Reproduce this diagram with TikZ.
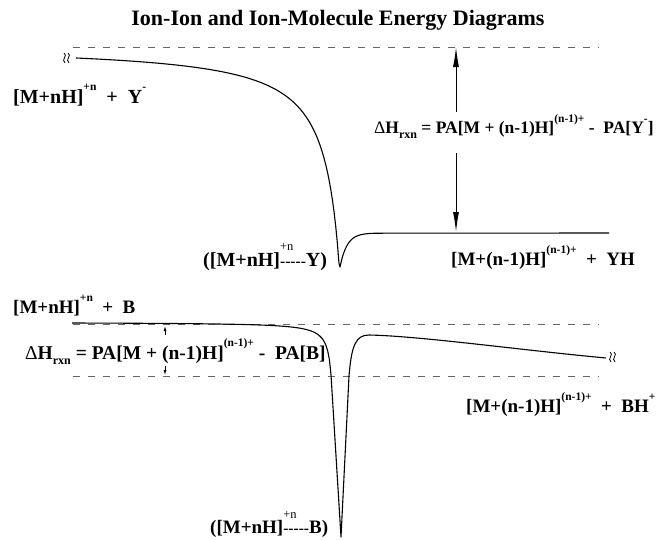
\documentclass[tikz,border=0pt]{standalone}
\usepackage{fontspec}
\setmainfont{Liberation Serif}
\usetikzlibrary{arrows.meta}
\newcommand{\spx}[1]{\raisebox{0.62em}{\fontsize{11.5}{12}\selectfont #1}}
\newcommand{\sbx}[1]{\raisebox{-0.3em}{\fontsize{12}{12}\selectfont #1}}
\newcommand{\hy}{\mbox{-}}
\newcommand{\bondsup}[1]{\makebox[0pt][l]{\raisebox{0.78em}{\fontsize{12.5}{13}\selectfont\mdseries #1}}{\fontsize{15.5}{16}\selectfont\hy\hy\hy\hy\hy}}
\tikzset{
  lbl/.style={inner sep=0pt, anchor=base west, font=\bfseries\fontsize{19}{22}\selectfont},
  curve/.style={line width=1.1pt, line join=round},
  level/.style={dash pattern=on 7pt off 8pt, line width=0.6pt, black!60},
  bigarr/.style={line width=1pt, -{Latex[length=20pt,width=6pt]}},
  smallarr/.style={line width=0.8pt, -{Latex[length=5pt,width=3pt]}},
  brk/.style={line width=0.8pt},
}
\begin{document}
\begin{tikzpicture}[x=1pt,y=-1pt]
\useasboundingbox (0,0) rectangle (658,539);
% title
\node[font=\bfseries\fontsize{22}{25}\selectfont, inner sep=0pt] (title) at (338,20) {Ion-Ion and Ion-Molecule Energy Diagrams};
% dashed levels
\draw[level] (73,47) -- (599,47);
\draw[level] (73,324) -- (599,324);
\draw[level] (73,376) -- (599,376);
% upper curve
\draw[curve] plot[domain=76:339, samples=160] (\x,{58+3487/(355-\x)-12.5}) -- (340,267)
  -- plot[domain=340:376, samples=40] (\x,{233+34*exp(-(\x-340)/7)}) -- (609,233);
% lower curve
\draw[curve] plot[domain=72:331, samples=160] (\x,{322.2+210/(335-\x)}) -- (341,537) -- (349,376)
  .. controls (351.5,345) and (356,335) .. (369,335)
  .. controls (420,336) and (520,350) .. (606,358);
% break symbols
\foreach \bx/\by in {64/58, 610/357}{
  \draw[brk] (\bx,\by-5) .. controls (\bx+4.5,\by-2.5) and (\bx-3.5,\by+1.5) .. (\bx+1,\by+5);
  \draw[brk] (\bx+4,\by-5) .. controls (\bx+8.5,\by-2.5) and (\bx+0.5,\by+1.5) .. (\bx+5,\by+5);
}
% labels
\node[lbl, font=\bfseries\fontsize{20}{23}\selectfont] (r1) at (13,103) {[M+nH]\spx{+n}\ \ +\ \ Y\spx{-}};
\node[lbl, font=\bfseries\fontsize{17.5}{20}\selectfont] (dh1) at (374,133) {{\mdseries Δ}H\sbx{rxn} = PA[M + (n\hy1)H]\spx{(n\hy1)+}\ \hy\ \ PA[Y\spx{-}]};
\node[lbl, font=\bfseries\fontsize{20}{23}\selectfont] (c1) at (203,266) {([M+nH]\bondsup{+n}Y)};
\node[lbl] (p1) at (451,265) {[M+(n\hy1)H]\spx{(n\hy1)+}\ \ +\ \ YH};
\node[lbl] (r2) at (13,313) {[M+nH]\spx{+n}\ \ +\ \ B};
\node[lbl, font=\bfseries\fontsize{19.5}{22}\selectfont] (dh2) at (25,359) {{\mdseries Δ}H\sbx{rxn} = PA[M + (n\hy1)H]\spx{(n\hy1)+}\ \hy\ \ PA[B]};
\node[lbl] (c2) at (210,533) {([M+nH]\bondsup{+n}B)};
\node[lbl] (p2) at (466,412) {[M+(n\hy1)H]\spx{(n\hy1)+}\ \ +\ \ BH\spx{+}};
% arrows
\coordinate (a1top) at (456,47);
\coordinate (a1s) at (456,112);
\coordinate (a1e) at (456,153);
\coordinate (a1bot) at (456,232);
\draw[bigarr] (a1s) -- (a1top);
\draw[bigarr] (a1e) -- (a1bot);
\coordinate (s1) at (165,335);
\coordinate (s1t) at (165,326);
\coordinate (s2) at (165,366);
\coordinate (s2t) at (165,375);
\draw[smallarr] (s1) -- (s1t);
\draw[smallarr] (s2) -- (s2t);
\end{tikzpicture}
\end{document}
